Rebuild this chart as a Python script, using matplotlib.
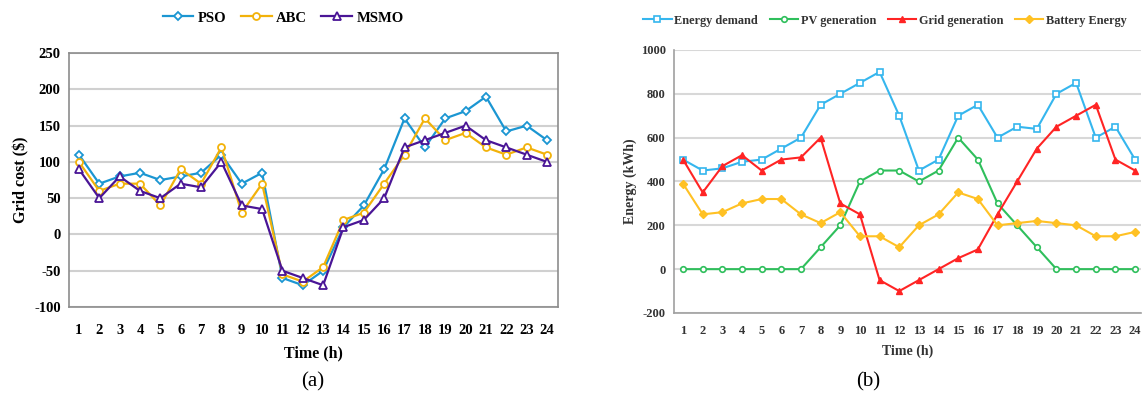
import matplotlib
matplotlib.use("Agg")
import matplotlib.pyplot as plt

hours = list(range(1, 25))

pso = [110, 70, 80, 85, 75, 80, 85, 110, 70, 85, -60, -70, -50, 10, 40, 90, 160, 120, 160, 170, 190, 142, 150, 130]
abc = [100, 60, 70, 70, 40, 90, 70, 120, 30, 70, -55, -65, -45, 20, 30, 70, 110, 160, 130, 140, 120, 110, 120, 110]
msmo = [90, 50, 80, 60, 50, 70, 65, 100, 40, 35, -50, -60, -70, 10, 20, 50, 120, 130, 140, 150, 130, 120, 110, 100]

demand = [500, 450, 460, 490, 500, 550, 600, 750, 800, 850, 900, 700, 450, 500, 700, 750, 600, 650, 640, 800, 850, 600, 650, 500]
pv = [0, 0, 0, 0, 0, 0, 0, 100, 200, 400, 450, 450, 400, 450, 600, 500, 300, 200, 100, 0, 0, 0, 0, 0]
grid = [500, 350, 470, 520, 450, 500, 510, 600, 300, 250, -50, -100, -50, 0, 50, 90, 250, 400, 550, 650, 700, 750, 500, 450]
battery = [390, 250, 260, 300, 320, 320, 250, 210, 260, 150, 150, 100, 200, 250, 350, 320, 200, 210, 220, 210, 200, 150, 150, 170]

left_ticks = [-100, -50, 0, 50, 100, 150, 200, 250]
right_ticks = [-200, 0, 200, 400, 600, 800, 1000]

serif = ['Liberation Serif', 'DejaVu Serif']
plt.rcParams['font.family'] = serif
plt.rcParams['axes.unicode_minus'] = False

fig = plt.figure(figsize=(11.42, 3.98), dpi=100)

# ---- (a) ----
ax1 = fig.add_axes([0.0604, 0.2286, 0.4282, 0.638])
c_pso, c_abc, c_msmo = '#1b96d2', '#f2b20a', '#4a1596'
ax1.plot(hours, pso, color=c_pso, lw=1.6, marker='D', ms=4.5, mfc='white', mec=c_pso, mew=1.3, label='PSO', zorder=3)
ax1.plot(hours, abc, color=c_abc, lw=1.6, marker='o', ms=5, mfc='white', mec=c_abc, mew=1.3, label='ABC', zorder=3)
ax1.plot(hours, msmo, color=c_msmo, lw=1.6, marker='^', ms=5.5, mfc='white', mec=c_msmo, mew=1.3, label='MSMO', zorder=4)
ax1.set_xlim(0.51, 24.54)
ax1.set_ylim(-100, 250)
ax1.set_yticks(left_ticks)
ax1.set_xticks(hours)
ax1.grid(axis='y', color='#d0d0d0', lw=1.5)
ax1.set_axisbelow(True)
for s in ax1.spines.values():
    s.set_color('#8c8c8c')
    s.set_linewidth(1.2)
ax1.tick_params(length=0, labelsize=10.5, pad=6)
ax1.tick_params(axis='x', pad=12)
for lab in ax1.get_xticklabels() + ax1.get_yticklabels():
    lab.set_fontweight('bold')
ax1.set_xlabel('Time (h)', fontsize=11.5, fontweight='bold', labelpad=6)
ax1.set_ylabel('Grid cost ($)', fontsize=11.5, fontweight='bold', labelpad=3)
leg1 = fig.legend(*ax1.get_legend_handles_labels(), loc='center', bbox_to_anchor=(0.248, 0.955), ncol=3, frameon=False,
                  prop={'family': serif, 'weight': 'bold', 'size': 10.5},
                  handlelength=2.1, columnspacing=1.0, handletextpad=0.3)
fig.text(0.274, 0.04, '(a)', ha='center', va='center', fontsize=15)

# ---- (b) ----
ax2 = fig.add_axes([0.5902, 0.2136, 0.4089, 0.6608])
c_dem, c_pv, c_grid, c_bat = '#35b6ee', '#2fbf5c', '#ff2424', '#ffc124'
ax2.plot(hours, demand, color=c_dem, lw=1.5, marker='s', ms=4.5, mfc='white', mec=c_dem, mew=1.2, label='Energy demand', zorder=3)
ax2.plot(hours, pv, color=c_pv, lw=1.5, marker='o', ms=4, mfc='white', mec=c_pv, mew=1.2, label='PV generation', zorder=3)
ax2.plot(hours, grid, color=c_grid, lw=1.5, marker='^', ms=5, mfc=c_grid, mec=c_grid, mew=1.0, label='Grid generation', zorder=3)
ax2.plot(hours, battery, color=c_bat, lw=1.5, marker='D', ms=4, mfc=c_bat, mec=c_bat, mew=1.0, label='Battery Energy', zorder=3)
ax2.set_xlim(0.54, 24.3)
ax2.set_ylim(-200, 1000)
ax2.set_yticks(right_ticks)
ax2.set_xticks(hours)
ax2.grid(axis='y', color='#d8d8d8', lw=1.5)
ax2.set_axisbelow(True)
ax2.spines['top'].set_visible(False)
ax2.spines['right'].set_visible(False)
for k in ('left', 'bottom'):
    ax2.spines[k].set_color('#a0a0a0')
    ax2.spines[k].set_linewidth(1.2)
ax2.tick_params(length=0, labelsize=9, pad=6)
ax2.tick_params(axis='x', pad=9)
for lab in ax2.get_xticklabels() + ax2.get_yticklabels():
    lab.set_fontweight('bold')
    lab.set_color('#333333')
ax2.set_xlabel('Time (h)', fontsize=10, fontweight='bold', labelpad=5, color='#333333')
ax2.set_ylabel('Energy (kWh)', fontsize=10, fontweight='bold', labelpad=3, color='#333333')
leg2 = fig.legend(*ax2.get_legend_handles_labels(), loc='center', bbox_to_anchor=(0.775, 0.948), ncol=4, frameon=False,
                  prop={'family': serif, 'weight': 'bold', 'size': 8.8},
                  handlelength=2.3, columnspacing=1.0, handletextpad=0.2)
for t in leg2.get_texts():
    t.set_color('#333333')
fig.text(0.760, 0.04, '(b)', ha='center', va='center', fontsize=15)

fig.savefig('out.png', dpi=100)
